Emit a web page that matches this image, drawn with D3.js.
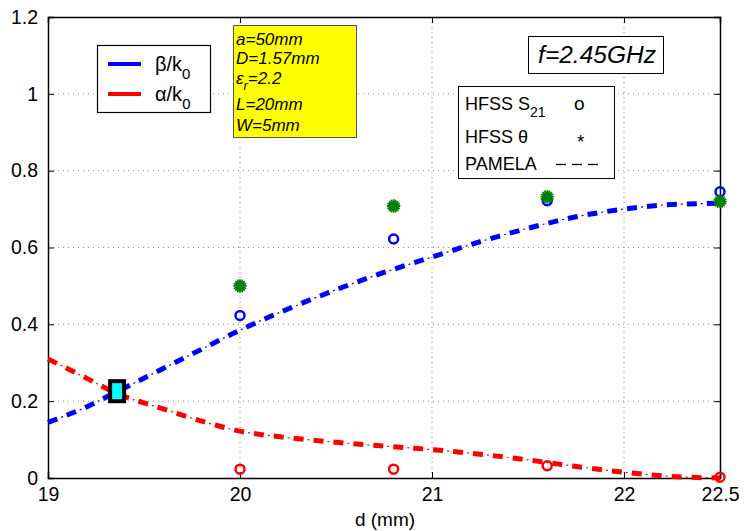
<!DOCTYPE html>
<html>
<head>
<meta charset="utf-8">
<script src="https://cdn.jsdelivr.net/npm/d3@7"></script>
<style>
  body { margin: 0; background: #fff; }
  text { font-family: "Liberation Sans", Arial, sans-serif; }
</style>
</head>
<body>
<script>
// PAMELA curves
var curveD     = [19, 19.2, 19.36, 19.6, 19.8, 20, 20.25, 20.5, 20.75, 21, 21.25, 21.5, 21.75, 22, 22.25, 22.5];
var betaCurve  = [0.145, 0.185, 0.225, 0.285, 0.335, 0.385, 0.44, 0.49, 0.535, 0.575, 0.615, 0.65, 0.68, 0.70, 0.712, 0.715];
var alphaCurve = [0.31, 0.26, 0.22, 0.18, 0.148, 0.122, 0.105, 0.093, 0.083, 0.074, 0.062, 0.047, 0.03, 0.015, 0.004, 0.0];

// HFSS points
var hfssD      = [20, 20.8, 21.6, 22.5];
var betaS21    = [0.423, 0.622, 0.722, 0.745];
var betaTheta  = [0.50, 0.708, 0.732, 0.72];
var alphaS21   = [0.023, 0.023, 0.032, 0.002];

// crossing marker
var crossD = 19.36, crossV = 0.226;

var xTicks = [19, 20, 21, 22, 22.5];
var yTicks = [0, 0.2, 0.4, 0.6, 0.8, 1, 1.2];

var W = 746, H = 531;
var svg = d3.select("body").append("svg").attr("width", W).attr("height", H);

var x = d3.scaleLinear().domain([19, 22.5]).range([48, 720]);
var y = d3.scaleLinear().domain([0, 1.2]).range([478, 17]);

// grid
svg.selectAll(".gx").data([20, 21, 22]).enter().append("line")
    .attr("x1", function(d) { return x(d); }).attr("x2", function(d) { return x(d); })
    .attr("y1", y(0)).attr("y2", y(1.2))
    .attr("stroke", "#888").attr("stroke-width", 1).attr("stroke-dasharray", "1,4");
svg.selectAll(".gy").data([0.2, 0.4, 0.6, 0.8, 1]).enter().append("line")
    .attr("x1", x(19)).attr("x2", x(22.5))
    .attr("y1", function(d) { return y(d); }).attr("y2", function(d) { return y(d); })
    .attr("stroke", "#888").attr("stroke-width", 1).attr("stroke-dasharray", "1,4");

// axes (inward ticks, box)
var fmt = function(d) { return d3.format("~g")(d); };
var bottom = svg.append("g").attr("transform", "translate(0," + y(0) + ")")
    .call(d3.axisBottom(x).tickValues(xTicks).tickSize(-6).tickPadding(12).tickFormat(fmt));
var left = svg.append("g").attr("transform", "translate(" + x(19) + ",0)")
    .call(d3.axisLeft(y).tickValues(yTicks).tickSize(-6).tickPadding(10).tickFormat(fmt));
svg.append("g").attr("transform", "translate(0," + y(1.2) + ")")
    .call(d3.axisTop(x).tickValues(xTicks).tickSize(-6).tickFormat(""));
svg.append("g").attr("transform", "translate(" + x(22.5) + ",0)")
    .call(d3.axisRight(y).tickValues(yTicks).tickSize(-6).tickFormat(""));
svg.selectAll(".domain").attr("stroke", "#000").attr("stroke-width", 1.5);
svg.selectAll(".tick line").attr("stroke", "#000");
svg.selectAll(".tick text").attr("font-size", 19.5).attr("fill", "#000")
    .style("font-family", "Liberation Sans, Arial, sans-serif");
bottom.selectAll(".tick text").attr("dy", "0.55em");

svg.append("text").attr("x", 385).attr("y", 526).attr("text-anchor", "middle")
    .attr("font-size", 19).text("d (mm)");

// curves: thick dash + thin dot
var line = d3.line().x(function(d) { return x(d[0]); }).y(function(d) { return y(d[1]); })
    .curve(d3.curveMonotoneX);
function drawCurve(vals, color) {
    var pts = curveD.map(function(d, i) { return [d, vals[i]]; });
    svg.append("path").attr("d", line(pts)).attr("fill", "none")
        .attr("stroke", color).attr("stroke-width", 5).attr("stroke-dasharray", "10,10");
    svg.append("path").attr("d", line(pts)).attr("fill", "none")
        .attr("stroke", color).attr("stroke-width", 1.2).attr("stroke-dasharray", "0,14,2,4");
}
drawCurve(betaCurve, "#0000ff");
drawCurve(alphaCurve, "#ff0000");

// circles
function drawCircles(vals, color) {
    svg.selectAll(null).data(hfssD.map(function(d, i) { return [d, vals[i]]; }))
        .enter().append("circle")
        .attr("cx", function(d) { return x(d[0]); })
        .attr("cy", function(d) { return y(d[1]); })
        .attr("r", 4.5).attr("fill", "none").attr("stroke", color).attr("stroke-width", 2.5);
}
drawCircles(betaS21, "#0000ff");
drawCircles(alphaS21, "#ff0000");

// green asterisks
var star = "";
for (var k = 0; k < 8; k++) {
    var a = k * Math.PI / 8;
    star += "M" + (-6 * Math.cos(a)) + "," + (-6 * Math.sin(a)) + "L" + (6 * Math.cos(a)) + "," + (6 * Math.sin(a));
}
var thetaPts = hfssD.map(function(d, i) { return [d, betaTheta[i]]; });
svg.selectAll(null).data(thetaPts)
    .enter().append("path")
    .attr("transform", function(d) { return "translate(" + x(d[0]) + "," + y(d[1]) + ")"; })
    .attr("d", star).attr("stroke", "#008000").attr("stroke-width", 1.8)
    .attr("stroke-linecap", "round").attr("fill", "none");
svg.selectAll(null).data(thetaPts)
    .enter().append("circle")
    .attr("cx", function(d) { return x(d[0]); }).attr("cy", function(d) { return y(d[1]); })
    .attr("r", 3.5).attr("fill", "#008000");

// crossing marker
svg.append("rect").attr("x", x(crossD) - 7).attr("y", y(crossV) - 10)
    .attr("width", 14).attr("height", 20)
    .attr("fill", "#00ffff").attr("stroke", "#000").attr("stroke-width", 4);

// legend β / α
svg.append("rect").attr("x", 97.5).attr("y", 45.5).attr("width", 113).attr("height", 67)
    .attr("fill", "#fff").attr("stroke", "#000").attr("stroke-width", 1.2);
[["β/k", "#0000ff", 64], ["α/k", "#ff0000", 94]].forEach(function(e) {
    svg.append("line").attr("x1", 108).attr("x2", 141).attr("y1", e[2]).attr("y2", e[2])
        .attr("stroke", e[1]).attr("stroke-width", 4);
    var t = svg.append("text").attr("x", 155).attr("y", e[2] + 7).attr("font-size", 20).text(e[0]);
    t.append("tspan").attr("font-size", 15).attr("dy", 8).text("0");
});

// parameter box
svg.append("rect").attr("x", 233.5).attr("y", 25.5).attr("width", 123).attr("height", 112)
    .attr("fill", "#ffff00").attr("stroke", "#555").attr("stroke-width", 1);
var params = [["a=50mm", 45], ["D=1.57mm", 64], ["", 84], ["L=20mm", 110], ["W=5mm", 131]];
params.forEach(function(p, i) {
    var t = svg.append("text").attr("x", 236).attr("y", p[1]).attr("font-size", 17)
        .attr("font-style", "italic");
    if (i === 2) {
        t.append("tspan").text("ε");
        t.append("tspan").attr("font-size", 13).attr("dy", 6).text("r");
        t.append("tspan").attr("dy", -6).text("=2.2");
    } else {
        t.text(p[0]);
    }
});

// frequency box
svg.append("rect").attr("x", 528.5).attr("y", 36.5).attr("width", 135).attr("height", 37)
    .attr("fill", "#fff").attr("stroke", "#000").attr("stroke-width", 1);
svg.append("text").attr("x", 597).attr("y", 63).attr("text-anchor", "middle")
    .attr("font-size", 24.5).attr("font-style", "italic").text("f=2.45GHz");

// method legend
svg.append("rect").attr("x", 458.5).attr("y", 86.5).attr("width", 156).attr("height", 92)
    .attr("fill", "#fff").attr("stroke", "#000").attr("stroke-width", 1);
var l1 = svg.append("text").attr("x", 465).attr("y", 110).attr("font-size", 18);
l1.append("tspan").text("HFSS S");
l1.append("tspan").attr("font-size", 14).attr("dy", 7).text("21");
svg.append("text").attr("x", 574).attr("y", 110).attr("font-size", 19).text("o");
svg.append("text").attr("x", 577).attr("y", 148).attr("font-size", 19).text("*");
svg.append("text").attr("x", 465).attr("y", 143).attr("font-size", 18).text("HFSS θ");
svg.append("text").attr("x", 465).attr("y", 170).attr("font-size", 18).text("PAMELA");
[556, 572, 588].forEach(function(px) {
    svg.append("line").attr("x1", px).attr("x2", px + 10).attr("y1", 164.5).attr("y2", 164.5)
        .attr("stroke", "#000").attr("stroke-width", 1.3);
});
</script>
</body>
</html>
